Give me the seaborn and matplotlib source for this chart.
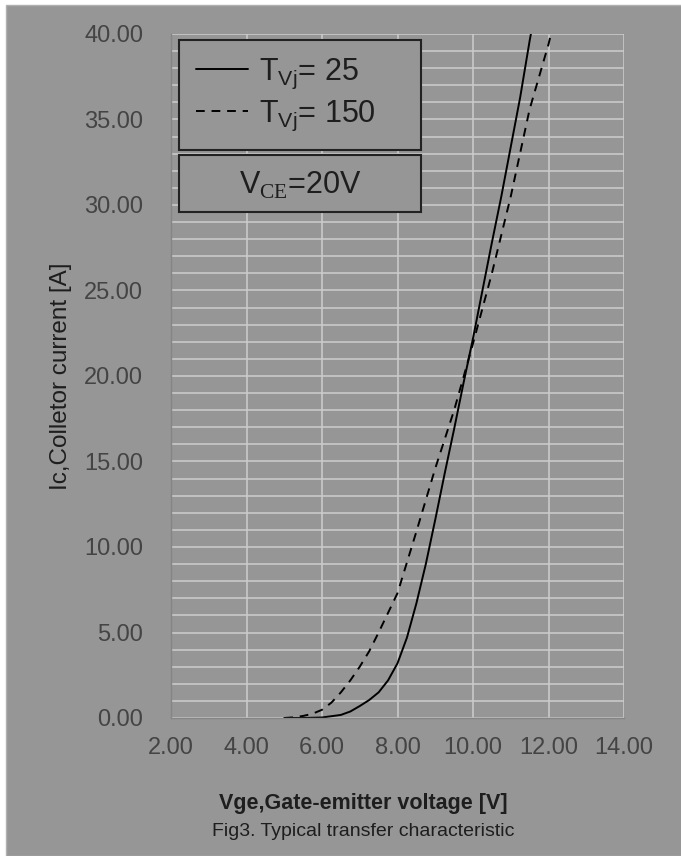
import numpy as np
import pandas as pd
import seaborn as sns
import matplotlib.pyplot as plt
from matplotlib.ticker import MultipleLocator, FormatStrFormatter
from matplotlib.patches import Rectangle

vge_25 = [5.0, 5.5, 6.0, 6.5, 6.75, 7.0, 7.25, 7.5, 7.75, 8.0, 8.25, 8.5, 8.75,
          9.0, 9.25, 9.5, 9.75, 10.0, 10.25, 10.5, 10.75, 11.0, 11.25, 11.5, 11.55]
ic_25 = [0.0, 0.0, 0.03, 0.18, 0.38, 0.7, 1.05, 1.5, 2.2, 3.2, 4.7, 6.7, 9.0,
         11.6, 14.3, 16.9, 19.6, 22.2, 25.0, 27.8, 30.5, 33.4, 36.3, 39.6, 40.2]
vge_150 = [5.0, 5.25, 5.5, 5.75, 6.0, 6.25, 6.5, 6.75, 7.0, 7.25, 7.5, 8.0, 8.5,
           9.0, 9.5, 10.0, 10.5, 11.0, 11.5, 12.0, 12.1]
ic_150 = [0.0, 0.04, 0.12, 0.25, 0.48, 0.9, 1.5, 2.2, 3.0, 3.9, 5.0, 7.3, 10.9,
          14.6, 18.0, 21.9, 26.0, 30.5, 35.6, 39.4, 40.3]

x_ticks = [2, 4, 6, 8, 10, 12, 14]
y_ticks = [0, 5, 10, 15, 20, 25, 30, 35, 40]
labels = ['T$_{\\mathsf{Vj}}$= 25', 'T$_{\\mathsf{Vj}}$= 150']

df = pd.concat([
    pd.DataFrame({'Vge': vge_25, 'Ic': ic_25, 'Tvj': '25'}),
    pd.DataFrame({'Vge': vge_150, 'Ic': ic_150, 'Tvj': '150'}),
])

bg = '#969696'
sns.set_style('whitegrid', {'axes.facecolor': bg, 'grid.color': '#cdcdcd',
                            'axes.edgecolor': '#858585'})
plt.rcParams['font.family'] = ['Liberation Sans', 'DejaVu Sans']
plt.rcParams['mathtext.fontset'] = 'custom'
plt.rcParams['mathtext.rm'] = 'Liberation Serif'
plt.rcParams['mathtext.sf'] = 'Liberation Sans'

fig = plt.figure(figsize=(6.81, 8.56), dpi=100)
fig.patch.set_facecolor('white')
fig.patches.append(Rectangle((6 / 681, 0), 1, 1 - 5 / 856, transform=fig.transFigure,
                             facecolor=bg, edgecolor='#b0b0b0', lw=1, zorder=-10))
ax = fig.add_axes([171 / 681, 1 - 718 / 856, 453 / 681, 684 / 856])
ax.set_facecolor(bg)

sns.lineplot(data=df, x='Vge', y='Ic', style='Tvj', style_order=['25', '150'],
             dashes={'25': '', '150': (4.5, 3.5)}, color='black', lw=1.4,
             legend=False, ax=ax)

ax.set_xlim(2, 14)
ax.set_ylim(0, 40)
ax.set_xticks(x_ticks)
ax.set_yticks(y_ticks)
ax.yaxis.set_minor_locator(MultipleLocator(1))
ax.xaxis.set_major_formatter(FormatStrFormatter('%.2f'))
ax.yaxis.set_major_formatter(FormatStrFormatter('%.2f'))
ax.grid(True, which='major', axis='both', lw=1.1)
ax.grid(True, which='minor', axis='y', lw=1.1)
ax.tick_params(which='major', length=6, width=1, color='#858585', labelsize=17,
               labelcolor='#444444')
ax.tick_params(axis='y', pad=14)
ax.tick_params(axis='x', pad=8)
ax.tick_params(which='minor', length=0)
for s in ['top', 'right']:
    ax.spines[s].set_visible(False)
for s in ['left', 'bottom']:
    ax.spines[s].set_linewidth(1)

ax.set_xlabel('')
ax.set_ylabel('Ic,Colletor current [A]', fontsize=17.5, color='#1e1e1e')
ax.yaxis.set_label_coords(-0.218, 0.5)

fig.text(363 / 681, 1 - 803 / 856, 'Vge,Gate-emitter voltage [V]', ha='center',
         va='center', fontsize=15.5, fontweight='bold', color='#1e1e1e')
fig.text(363 / 681, 1 - 832 / 856, 'Fig3. Typical transfer characteristic',
         ha='center', va='center', fontsize=14, color='#1e1e1e')

leg = ax.legend(ax.lines[:2], labels, loc='upper left',
                bbox_to_anchor=(0.0183, 0.991, 0.534, 0.0), mode='expand',
                borderaxespad=0, fontsize=22, handlelength=1.7, handletextpad=0.35,
                borderpad=0.55, labelspacing=0.25, frameon=True, fancybox=False)
leg.get_frame().set_facecolor(bg)
leg.get_frame().set_edgecolor('#222222')
leg.get_frame().set_linewidth(1.5)
leg.get_frame().set_alpha(1)
for t in leg.get_texts():
    t.set_color('#1e1e1e')

ax.add_patch(Rectangle((0.0183, 0.740), 0.534, 0.083, transform=ax.transAxes,
                       facecolor=bg, edgecolor='#222222', lw=1.5, zorder=5))
ax.text(0.285, 0.779, 'V$_{\\mathrm{CE}}$=20V', transform=ax.transAxes, ha='center',
        va='center', fontsize=22, color='#1e1e1e', zorder=6)

fig.savefig('out.png', dpi=100, facecolor=fig.get_facecolor())
